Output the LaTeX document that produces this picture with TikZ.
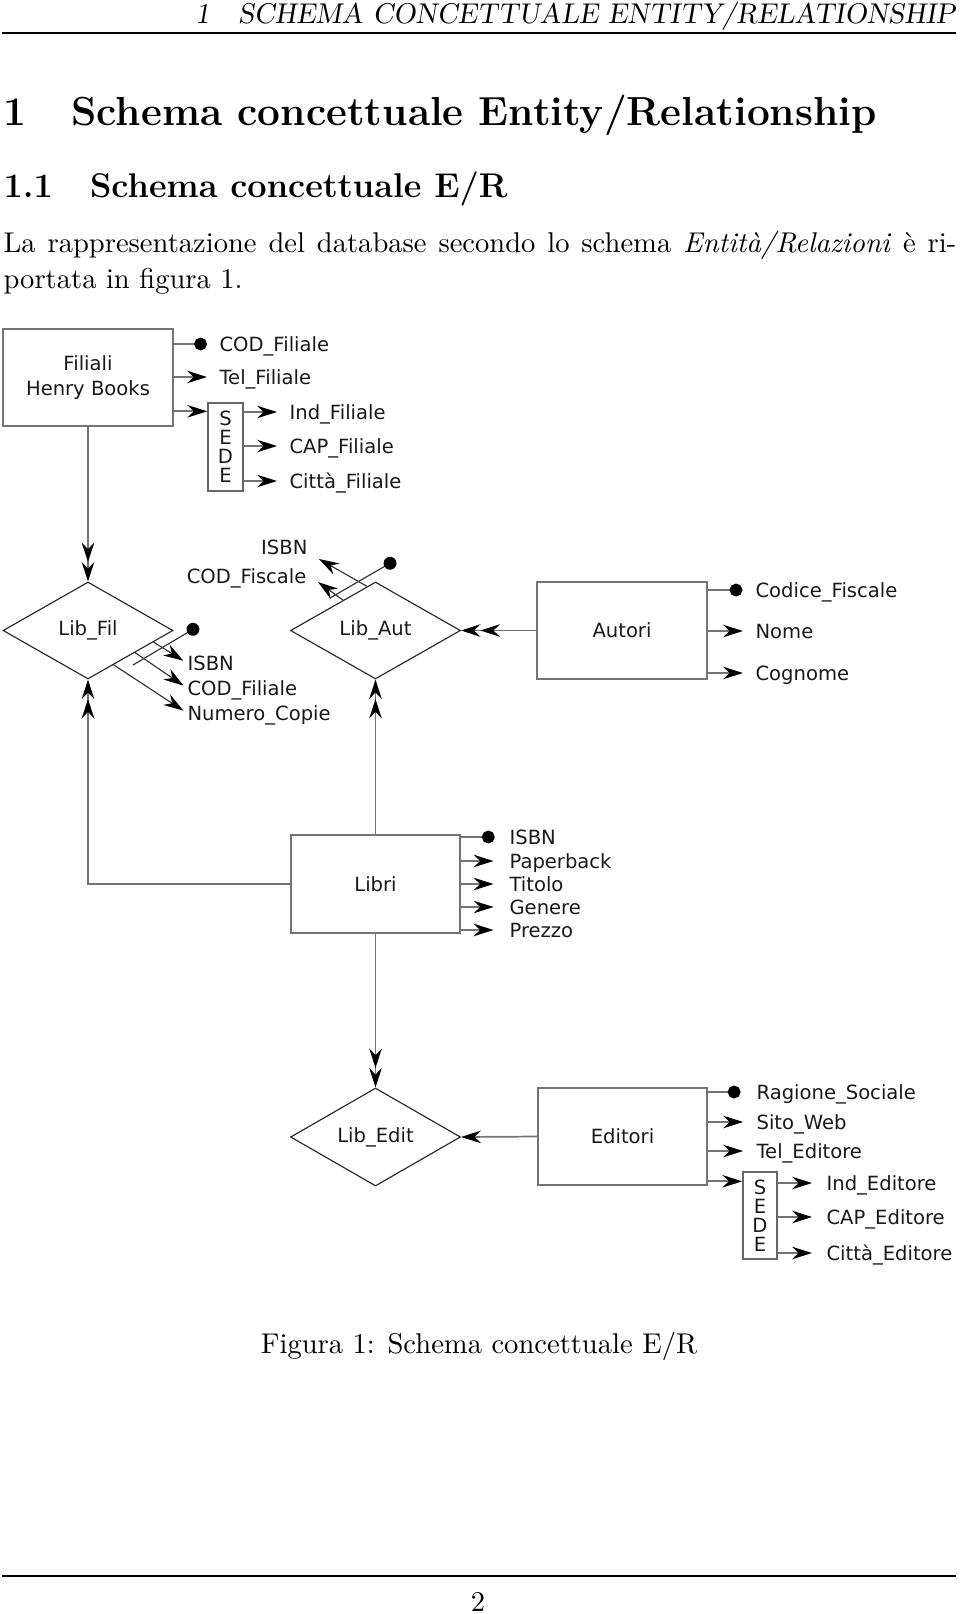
\documentclass[tikz,border=0pt]{standalone}
\usepackage{fontspec}
\newfontfamily\diagfont{DejaVu Sans}
\usetikzlibrary{arrows.meta,shapes.geometric,calc}
\def\pxu{0.35pt}
\tikzset{
  dfont/.style={font=\diagfont\fontsize{6.85pt}{8.75pt}\selectfont, text=black!90},
  entity/.style={dfont, draw=black!55, line width=0.65pt, minimum width=170*\pxu, minimum height=97*\pxu, inner sep=0pt, align=center},
  rel/.style={dfont, diamond, draw=black!85, line width=0.4pt, minimum width=170*\pxu, minimum height=97*\pxu, inner sep=0pt},
  sedebox/.style={font=\diagfont\fontsize{6.85pt}{6.6pt}\selectfont, text=black!90, draw=black!60, line width=0.5pt, minimum width=35*\pxu, minimum height=88*\pxu, inner sep=0pt, align=center},
  attr/.style={dfont, inner sep=0pt, text height=5pt, text depth=0pt},
  link/.style={draw=black!55, line width=0.6pt},
  idline/.style={draw=black!80, line width=0.4pt},
  arrowend/.style={-{Stealth[length=7pt,width=4.4pt,inset=2.3pt,color=black]}},
  darrowend/.style={-{Stealth[length=6.8pt,width=4.4pt,inset=2.3pt,color=black]Stealth[length=6.8pt,width=4.4pt,inset=2.3pt,color=black]}},
  dotend/.style={-{Circle[length=4.5pt,color=black]}},
  pagetext/.style={inner sep=0pt, text=black},
}
\begin{document}
\begin{tikzpicture}[x=0.35pt, y=-0.35pt]
\useasboundingbox (0,0) rectangle (960,1614);
% page text
\node[pagetext, anchor=base east] (hdr) at (956,23) {\slshape 1\quad SCHEMA CONCETTUALE ENTITY/RELATIONSHIP};
\coordinate (hrL) at (2,33); \coordinate (hrR) at (956,33);
\draw[line width=0.4pt] (hrL) -- (hrR);
\node[pagetext, anchor=base west] (sec) at (3,125) {\fontsize{14.2pt}{17pt}\selectfont\bfseries 1\hspace{15.8pt}Schema concettuale Entity/Relationship};
\node[pagetext, anchor=base west] (subsec) at (3,197) {\large\bfseries 1.1\hspace{13pt}Schema concettuale E/R};
\node[pagetext, anchor=base west] (par1) at (3,252) {\makebox[333.5pt][s]{La rappresentazione del database secondo lo schema \emph{Entità/Relazioni} è ri-}};
\node[pagetext, anchor=base west] (par2) at (3,288) {portata in figura 1.};
\node[pagetext, anchor=base] (cap) at (479,1353) {Figura 1: Schema concettuale E/R};
\coordinate (frL) at (2,1576); \coordinate (frR) at (956,1576);
\draw[line width=0.4pt] (frL) -- (frR);
\node[pagetext, anchor=base] (pg) at (478,1611) {2};

% entities
\node[entity] (filiali) at (88,377.5) {Filiali\\Henry Books};
\node[entity] (autori) at (622,630.5) {Autori};
\node[entity, minimum width=169*\pxu, minimum height=98*\pxu] (libri) at (375.5,884) {Libri};
\node[entity, minimum width=169*\pxu] (editori) at (622.5,1136.5) {Editori};
% relationships
\node[rel] (libfil) at (88,630.5) {Lib\_Fil};
\node[rel] (libaut) at (375.5,630.5) {Lib\_Aut};
\node[rel, minimum height=98*\pxu] (libedit) at (375.5,1137) {Lib\_Edit};

% Filiali attributes
\node[attr, anchor=west] (codfil) at (219,344) {COD\_Filiale};
\node[attr, anchor=west] (telfil) at (219,377) {Tel\_Filiale};
\node[sedebox] (sede1) at (225.5,447) {S\\E\\D\\E};
\node[attr, anchor=west] (indfil) at (289,412) {Ind\_Filiale};
\node[attr, anchor=west] (capfil) at (289,446) {CAP\_Filiale};
\node[attr, anchor=west] (citfil) at (289,481) {Città\_Filiale};
\draw[link, dotend, shorten >=4.2pt] (filiali.east |- codfil.west) -- (codfil.west);
\draw[link, arrowend, shorten >=4.2pt] (filiali.east |- telfil.west) -- (telfil.west);
\coordinate (s1in) at ([yshift=-9*\pxu]sede1.north west);
\draw[link, arrowend] (filiali.east |- s1in) -- (s1in);
\draw[link, arrowend, shorten >=4.2pt] (sede1.east |- indfil.west) -- (indfil.west);
\draw[link, arrowend, shorten >=4.2pt] (sede1.east |- capfil.west) -- (capfil.west);
\draw[link, arrowend, shorten >=4.2pt] (sede1.east |- citfil.west) -- (citfil.west);

% Autori attributes
\node[attr, anchor=west] (codfisc) at (755,590) {Codice\_Fiscale};
\node[attr, anchor=west] (nome) at (755,631) {Nome};
\node[attr, anchor=west] (cognome) at (755,673) {Cognome};
\draw[link, dotend, shorten >=4.4pt] (autori.east |- codfisc.west) -- (codfisc.west);
\draw[link, arrowend, shorten >=4.2pt] (autori.east |- nome.west) -- (nome.west);
\draw[link, arrowend, shorten >=4.2pt] (autori.east |- cognome.west) -- (cognome.west);

% Libri attributes
\node[attr, anchor=west] (isbnL) at (509,837) {ISBN};
\node[attr, anchor=west] (paper) at (509,861) {Paperback};
\node[attr, anchor=west] (titolo) at (509,884) {Titolo};
\node[attr, anchor=west] (genere) at (509,907) {Genere};
\node[attr, anchor=west] (prezzo) at (509,930) {Prezzo};
\draw[link, dotend, shorten >=5pt] (libri.east |- isbnL.west) -- (isbnL.west);
\draw[link, arrowend, shorten >=5.4pt] (libri.east |- paper.west) -- (paper.west);
\draw[link, arrowend, shorten >=5.4pt] (libri.east |- titolo.west) -- (titolo.west);
\draw[link, arrowend, shorten >=5.4pt] (libri.east |- genere.west) -- (genere.west);
\draw[link, arrowend, shorten >=5.4pt] (libri.east |- prezzo.west) -- (prezzo.west);

% Editori attributes
\node[attr, anchor=west] (ragsoc) at (756,1092) {Ragione\_Sociale};
\node[attr, anchor=west] (sitoweb) at (756,1122) {Sito\_Web};
\node[attr, anchor=west] (teled) at (756,1151) {Tel\_Editore};
\node[sedebox, minimum width=34*\pxu, minimum height=87*\pxu] (sede2) at (760,1215.5) {S\\E\\D\\E};
\node[attr, anchor=west] (inded) at (826,1183) {Ind\_Editore};
\node[attr, anchor=west] (caped) at (826,1217) {CAP\_Editore};
\node[attr, anchor=west] (cited) at (826,1253) {Città\_Editore};
\draw[link, dotend, shorten >=5.4pt] (editori.east |- ragsoc.west) -- (ragsoc.west);
\draw[link, arrowend, shorten >=4.5pt] (editori.east |- sitoweb.west) -- (sitoweb.west);
\draw[link, arrowend, shorten >=4.5pt] (editori.east |- teled.west) -- (teled.west);
\coordinate (s2in) at ([yshift=-10*\pxu]sede2.north west);
\draw[link, arrowend] (editori.east |- s2in) -- (s2in);
\draw[link, arrowend, shorten >=4.9pt] (sede2.east |- inded.west) -- (inded.west);
\draw[link, arrowend, shorten >=4.9pt] (sede2.east |- caped.west) -- (caped.west);
\draw[link, arrowend, shorten >=4.9pt] (sede2.east |- cited.west) -- (cited.west);

% relationship connectors
\draw[link, darrowend] (filiali.south) -- (libfil.north);
\draw[link, darrowend] (libri.north) -- (libaut.south);
\draw[link, darrowend] (libri.west) -| (libfil.south);
\draw[link, darrowend] (libri.south) -- (libedit.north);
\draw[link, darrowend] (autori.west) -- (libaut.east);
\draw[link, arrowend] (editori.west) -- (libedit.east);

% Lib_Fil attributes
\node[attr, anchor=west] (isbnF) at (187,663) {ISBN};
\node[attr, anchor=west] (codfilR) at (187,688) {COD\_Filiale};
\node[attr, anchor=west] (numcop) at (187,713) {Numero\_Copie};
\draw[idline, arrowend, shorten >=1.5pt] ($(libfil.east)!0.235!(libfil.south)$) -- (isbnF.west);
\draw[idline, arrowend, shorten >=1.5pt] ($(libfil.east)!0.45!(libfil.south)$) -- (codfilR.west);
\draw[idline, arrowend, shorten >=1.5pt] ($(libfil.east)!0.70!(libfil.south)$) -- (numcop.west);
\coordinate (idF1) at (133,665);
\coordinate (idF2) at (198.5,626);
\draw[idline, dotend] (idF1) -- (idF2);

% Lib_Aut attributes
\node[attr, anchor=east] (isbnA) at (308,547) {ISBN};
\node[attr, anchor=east] (codfiscR) at (307,576) {COD\_Fiscale};
\coordinate (tA1) at (319,559);
\coordinate (tA2) at (318,582);
\draw[idline, arrowend] ($(libaut.west)!0.9!(libaut.north)$) -- (tA1);
\draw[idline, arrowend] ($(libaut.west)!0.62!(libaut.north)$) -- (tA2);
\coordinate (idA1) at (330,598);
\coordinate (idA2) at (395.6,560);
\draw[idline, dotend] (idA1) -- (idA2);
\end{tikzpicture}
\end{document}
